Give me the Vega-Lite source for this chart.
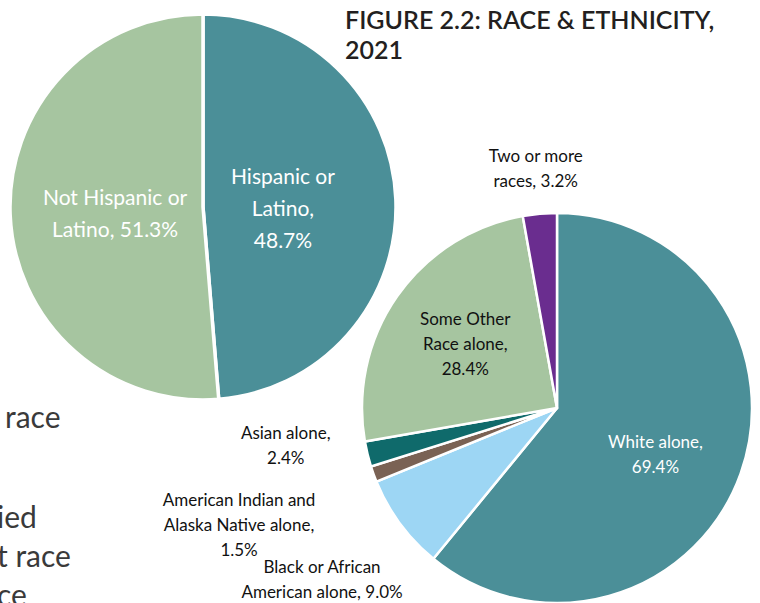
{
  "$schema": "https://vega.github.io/schema/vega-lite/v6.json",
  "width": 760,
  "height": 603,
  "autosize": "none",
  "padding": 0,
  "background": "white",
  "config": {"view": {"stroke": null}, "font": "Lato"},
  "datasets": {
    "ethnicity": [
      {"group": "Hispanic or Latino", "value": 48.7, "ord": 1, "label": ["Hispanic or", "Latino,", "48.7%"]},
      {"group": "Not Hispanic or Latino", "value": 51.3, "ord": 2, "label": ["Not Hispanic or", "Latino, 51.3%"]}
    ],
    "race": [
      {"group": "White alone", "value": 69.4, "ord": 1, "label": ["White alone,", "69.4%"]},
      {"group": "Black or African American alone", "value": 9.0, "ord": 2, "label": ["Black or African", "American alone, 9.0%"]},
      {"group": "American Indian and Alaska Native alone", "value": 1.5, "ord": 3, "label": ["American Indian and", "Alaska Native alone,", "1.5%"]},
      {"group": "Asian alone", "value": 2.4, "ord": 4, "label": ["Asian alone,", "2.4%"]},
      {"group": "Some Other Race alone", "value": 28.4, "ord": 5, "label": ["Some Other", "Race alone,", "28.4%"]},
      {"group": "Two or more races", "value": 3.2, "ord": 6, "label": ["Two or more", "races, 3.2%"]}
    ]
  },
  "layer": [
    {
      "data": {"name": "ethnicity"},
      "encoding": {
        "theta": {"field": "value", "type": "quantitative", "stack": true},
        "order": {"field": "ord", "type": "quantitative"},
        "detail": {"field": "group"}
      },
      "layer": [
        {
          "mark": {"type": "arc", "x": 203, "y": 207, "outerRadius": 193, "stroke": "white", "strokeWidth": 3.5},
          "encoding": {
            "color": {
              "field": "group", "type": "nominal", "legend": null,
              "scale": {"domain": ["Hispanic or Latino", "Not Hispanic or Latino"], "range": ["#4b8f98", "#a6c5a0"]}
            }
          }
        },
        {
          "mark": {"type": "text", "x": 203, "y": 207, "radius": 80, "dy": -26, "fontSize": 21, "lineHeight": 32, "color": "white", "align": "center", "baseline": "middle"},
          "encoding": {"text": {"condition": {"test": "datum.group === 'Hispanic or Latino'", "field": "label"}, "value": ""}}
        },
        {
          "mark": {"type": "text", "x": 203, "y": 207, "radius": 88, "dy": -12, "fontSize": 21, "lineHeight": 32, "color": "white", "align": "center", "baseline": "middle"},
          "encoding": {"text": {"condition": {"test": "datum.group === 'Not Hispanic or Latino'", "field": "label"}, "value": ""}}
        }
      ]
    },
    {
      "data": {"name": "race"},
      "encoding": {
        "theta": {"field": "value", "type": "quantitative", "stack": true},
        "order": {"field": "ord", "type": "quantitative"},
        "detail": {"field": "group"}
      },
      "layer": [
        {
          "mark": {"type": "arc", "x": 557, "y": 408, "outerRadius": 195, "stroke": "white", "strokeWidth": 2.5},
          "encoding": {
            "color": {
              "field": "group", "type": "nominal", "legend": null,
              "scale": {
                "domain": ["White alone", "Black or African American alone", "American Indian and Alaska Native alone", "Asian alone", "Some Other Race alone", "Two or more races"],
                "range": ["#4b8f98", "#9dd6f4", "#7a6254", "#0f6a6b", "#a6c5a0", "#6a2d8f"]
              }
            }
          }
        },
        {
          "mark": {"type": "text", "x": 557, "y": 408, "radius": 112, "dx": -7, "dy": -3, "fontSize": 17, "lineHeight": 25, "color": "white", "align": "center", "baseline": "middle"},
          "encoding": {"text": {"condition": {"test": "datum.group === 'White alone'", "field": "label"}, "value": ""}}
        },
        {
          "mark": {"type": "text", "x": 557, "y": 408, "radius": 112, "dy": -24, "fontSize": 17, "lineHeight": 25, "color": "#111111", "align": "center", "baseline": "middle"},
          "encoding": {"text": {"condition": {"test": "datum.group === 'Some Other Race alone'", "field": "label"}, "value": ""}}
        },
        {
          "mark": {"type": "text", "x": 557, "y": 408, "radius": 241, "dy": -11, "fontSize": 17, "lineHeight": 25, "color": "#111111", "align": "center", "baseline": "middle"},
          "encoding": {"text": {"condition": {"test": "datum.group === 'Two or more races'", "field": "label"}, "value": ""}}
        },
        {
          "mark": {"type": "text", "x": 557, "y": 408, "radius": 272, "dx": -7, "dy": -38, "fontSize": 17, "lineHeight": 25, "color": "#111111", "align": "center", "baseline": "middle"},
          "encoding": {"text": {"condition": {"test": "datum.group === 'Asian alone'", "field": "label"}, "value": ""}}
        },
        {
          "mark": {"type": "text", "x": 557, "y": 408, "radius": 338, "dy": -22, "fontSize": 17, "lineHeight": 25, "color": "#111111", "align": "center", "baseline": "middle"},
          "encoding": {"text": {"condition": {"test": "datum.group === 'American Indian and Alaska Native alone'", "field": "label"}, "value": ""}}
        },
        {
          "mark": {"type": "text", "x": 557, "y": 408, "radius": 292, "dy": -13, "fontSize": 17, "lineHeight": 25, "color": "#111111", "align": "center", "baseline": "middle"},
          "encoding": {"text": {"condition": {"test": "datum.group === 'Black or African American alone'", "field": "label"}, "value": ""}}
        }
      ]
    },
    {"mark": {"type": "rule", "x": 539, "y": 197, "x2": 539, "y2": 212, "color": "#a0a0a0", "strokeWidth": 1}, "encoding": {}},
    {"mark": {"type": "rule", "x": 338, "y": 436, "x2": 346, "y2": 437, "color": "#a0a0a0", "strokeWidth": 1}, "encoding": {}},
    {"mark": {"type": "rule", "x": 346, "y": 437, "x2": 366, "y2": 456, "color": "#a0a0a0", "strokeWidth": 1}, "encoding": {}},
    {"mark": {"type": "rule", "x": 372, "y": 477, "x2": 317, "y2": 493, "color": "#a0a0a0", "strokeWidth": 1}, "encoding": {}},
    {"mark": {"type": "rule", "x": 317, "y": 493, "x2": 306, "y2": 493, "color": "#a0a0a0", "strokeWidth": 1}, "encoding": {}},
    {"mark": {"type": "rule", "x": 399, "y": 527, "x2": 383, "y2": 551, "color": "#a0a0a0", "strokeWidth": 1}, "encoding": {}},
    {"mark": {"type": "rule", "x": 383, "y": 551, "x2": 374, "y2": 551, "color": "#a0a0a0", "strokeWidth": 1}, "encoding": {}},
    {
      "data": {"values": [{"t": ["FIGURE 2.2: RACE & ETHNICITY,", "2021"]}]},
      "mark": {"type": "text", "x": 345, "y": 29, "align": "left", "baseline": "alphabetic", "fontSize": 25, "fontWeight": 600, "lineHeight": 30, "color": "#231f20"},
      "encoding": {"text": {"field": "t"}}
    },
    {
      "data": {"values": [{"t": ["race"]}]},
      "mark": {"type": "text", "x": 5, "y": 428, "align": "left", "baseline": "alphabetic", "fontSize": 30, "color": "#3a3a3a"},
      "encoding": {"text": {"field": "t"}}
    },
    {
      "data": {"values": [{"t": ["ied", "t race", "ce"]}]},
      "mark": {"type": "text", "x": -3, "y": 528, "align": "left", "baseline": "alphabetic", "fontSize": 30, "lineHeight": 39, "color": "#3a3a3a"},
      "encoding": {"text": {"field": "t"}}
    }
  ],
  "resolve": {"scale": {"theta": "independent", "color": "independent"}}
}
